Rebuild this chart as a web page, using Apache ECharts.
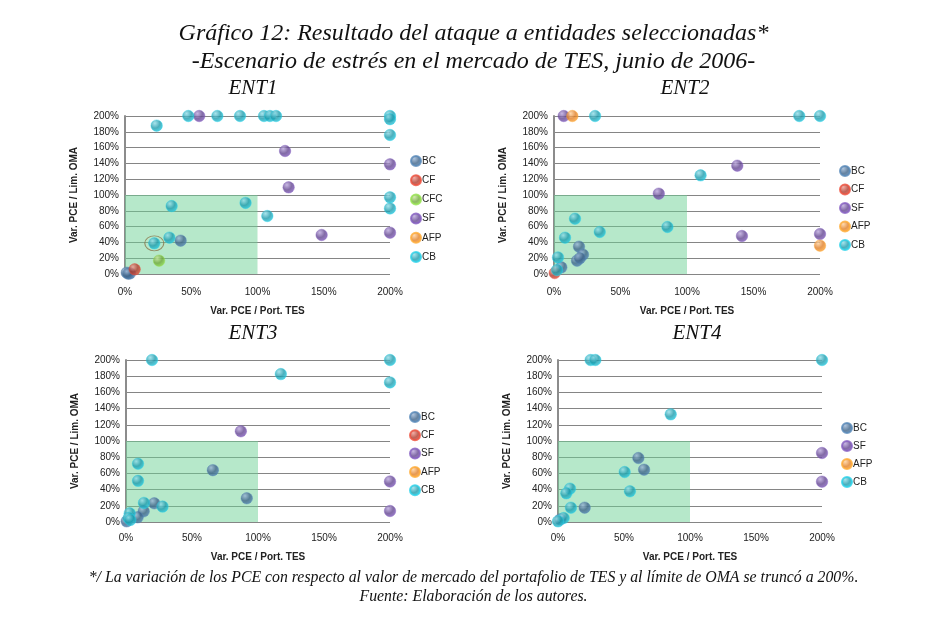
<!DOCTYPE html>
<html><head><meta charset="utf-8">
<script src="https://cdn.jsdelivr.net/npm/echarts@6/dist/echarts.min.js"></script>
<style>html,body{margin:0;padding:0;background:#fff}#c{width:947px;height:627px}</style>
</head><body><div id="c"></div>
<script>
// ---- Data (x = Var. PCE / Port. TES %, y = Var. PCE / Lim. OMA %) ----
const yTicks = [0,20,40,60,80,100,120,140,160,180,200];
const xTicks = [0,50,100,150,200];

// ENT1
const ent1_BC  = [[1.3,1.7],[3.8,0.8],[2.5,0.3],[42,42.2]];
const ent1_CF  = [[7.3,5.9]];
const ent1_CFC = [[25.7,16.9]];
const ent1_SF  = [[56,200],[120.8,155.7],[200,138.8],[123.5,109.7],[148.4,49.4],[200,52.3]];
const ent1_AFP = [];
const ent1_CB  = [[47.8,200],[69.7,200],[86.8,200],[104.9,200],[109.4,200],[114,200],[200,200],[200,196],
                  [23.9,187.8],[200,176],[200,97],[200,83],[35.2,86],[91,90],[107.4,73.4],[33.5,46],[22.1,38.8]];
const ent1_ring = [[22.1,38.8]];

// ENT2
const ent2_BC  = [[18.8,34.6],[21.8,24.5],[17.3,16.9],[19.5,20],[5.5,8.4]];
const ent2_CF  = [[0.5,1.2]];
const ent2_SF  = [[7.3,200],[137.8,137.1],[78.8,101.7],[141.3,48.1],[200,50.6]];
const ent2_AFP = [[13.8,200],[200,35.9]];
const ent2_CB  = [[30.9,200],[184.4,200],[200,200],[110.2,124.9],[15.8,70],[85.3,59.5],[34.4,53.2],[8.3,46],[3,21],[2.3,5]];

// ENT3
const ent3_BC  = [[65.8,64],[91.5,29.3],[21.4,23.1],[13.4,13.2],[8.8,5.8],[0.5,0.8]];
const ent3_CF  = [];
const ent3_SF  = [[87,112],[200,50],[200,13.6]];
const ent3_AFP = [];
const ent3_CB  = [[19.7,200],[200,200],[117.3,182.6],[200,172.3],[9.1,71.9],[9.1,50.8],[13.6,23.6],[27.7,19],[2.8,10.7],[2,5],[3.3,2.5]];

// ENT4
const ent4_BC  = [[60.9,79],[65.2,64.6],[20.2,17.7],[1.8,3.3]];
const ent4_SF  = [[200,85.2],[200,49.8]];
const ent4_AFP = [];
const ent4_CB  = [[24.7,200],[28.3,200],[200,200],[85.4,132.9],[50.5,61.7],[9.1,41.2],[6.3,35.4],[54.5,37.9],[9.8,17.7],[4.3,4.9],[0,0.8]];

const colors = {BC:'#3f6489', CF:'#b03a2c', CFC:'#6fa83a', SF:'#634690', AFP:'#e07f27', CB:'#1e9bac'};
const light  = {BC:'#9ab6d6', CF:'#f09a90', CFC:'#c6e69a', SF:'#b9a5dc', AFP:'#ffd09a', CB:'#92dde8'};

function grad(k){
  return new echarts.graphic.RadialGradient(0.35,0.3,0.75,[
    {offset:0,color:light[k]},{offset:0.55,color:colors[k]},{offset:1,color:echarts.color.lift(colors[k],-0.3)}]);
}

const grids = [
  {left:125, top:116, width:265, height:158},
  {left:554, top:116, width:266, height:158},
  {left:126, top:360, width:264, height:162},
  {left:558, top:360, width:264, height:162}
];

const panels = [
  {BC:ent1_BC, CF:ent1_CF, CFC:ent1_CFC, SF:ent1_SF, AFP:ent1_AFP, CB:ent1_CB, legend:['BC','CF','CFC','SF','AFP','CB']},
  {BC:ent2_BC, CF:ent2_CF, SF:ent2_SF, AFP:ent2_AFP, CB:ent2_CB, legend:['BC','CF','SF','AFP','CB']},
  {BC:ent3_BC, CF:ent3_CF, SF:ent3_SF, AFP:ent3_AFP, CB:ent3_CB, legend:['BC','CF','SF','AFP','CB']},
  {BC:ent4_BC, SF:ent4_SF, AFP:ent4_AFP, CB:ent4_CB, legend:['BC','SF','AFP','CB']}
];

const legendPos = [
  {left:410, top:155, gap:7.2},
  {left:839, top:165, gap:6.5},
  {left:409, top:411, gap:6.3},
  {left:841, top:422, gap:6}
];

const xAxes=[], yAxes=[], series=[], legends=[];
const font = 'Liberation Sans, Arial, sans-serif';
grids.forEach((g,i)=>{
  xAxes.push({gridIndex:i, type:'value', min:0, max:200, interval:50,
    name:'Var. PCE / Port. TES', nameLocation:'middle', nameGap: i<2 ? 32 : 30,
    nameTextStyle:{fontSize:10, fontWeight:'bold', color:'#222', fontFamily:font},
    axisLabel:{formatter:'{value}%', fontSize:10, color:'#222', fontFamily:font, margin: i<2 ? 13 : 11},
    axisLine:{show:false}, axisTick:{show:false}, splitLine:{show:false}});
  yAxes.push({gridIndex:i, type:'value', min:0, max:200, interval:20,
    name:'Var. PCE / Lim. OMA', nameLocation:'middle', nameGap:46,
    nameTextStyle:{fontSize:10, fontWeight:'bold', color:'#222', fontFamily:font},
    axisLabel:{formatter:'{value}%', fontSize:10, color:'#222', fontFamily:font, margin:6},
    axisLine:{show:true, lineStyle:{color:'#8c8c8c', width:2}}, axisTick:{show:false},
    splitLine:{show:true, lineStyle:{color:'#858585', width:1}}});
  const p = panels[i];
  series.push({type:'scatter', name:'zona', xAxisIndex:i, yAxisIndex:i, data:[], silent:true,
    markArea:{silent:true, itemStyle:{color:'rgba(110,210,150,0.5)'}, data:[[{coord:[0,0]},{coord:[100,100]}]]}});
  p.legend.forEach(k=>{
    series.push({type:'scatter', name:k, xAxisIndex:i, yAxisIndex:i, data:p[k], symbolSize:11.5,
      itemStyle:{color:grad(k), borderColor:echarts.color.lift(colors[k],-0.35), borderWidth:0.5}, z:3});
  });
  if(i===0){
    series.push({type:'scatter', name:'ring', xAxisIndex:0, yAxisIndex:0, data:ent1_ring, symbolSize:[19,15],
      itemStyle:{color:'rgba(0,0,0,0)', borderColor:'#8a7448', borderWidth:1}, z:4, silent:true});
  }
  const lp = legendPos[i];
  legends.push({data:p.legend, orient:'vertical', left:lp.left, top:lp.top, itemGap:lp.gap, padding:0,
    icon:'circle', itemWidth:10, itemHeight:10,
    textStyle:{fontSize:10, color:'#222', fontFamily:font, padding:[0,0,0,-4]}});
});

const serif = 'Liberation Serif, Times New Roman, serif';
const tStyle = s => ({fontFamily:serif, fontStyle:'italic', fontWeight:'normal', fontSize:s, color:'#111'});
const titles = [
  {text:'Gráfico 12: Resultado del ataque a entidades seleccionadas*', left:'center', top:22, padding:0, textStyle:tStyle(24)},
  {text:'-Escenario de estrés en el mercado de TES, junio de 2006-', left:'center', top:50, padding:0, textStyle:tStyle(24)},
  {text:'ENT1', left:253, top:78, padding:0, textAlign:'center', textStyle:tStyle(21)},
  {text:'ENT2', left:685, top:78, padding:0, textAlign:'center', textStyle:tStyle(21)},
  {text:'ENT3', left:253, top:323, padding:0, textAlign:'center', textStyle:tStyle(21)},
  {text:'ENT4', left:697, top:323, padding:0, textAlign:'center', textStyle:tStyle(21)},
  {text:'*/ La variación de los PCE con respecto al valor de mercado del portafolio de TES y al límite de OMA se truncó a 200%.', left:'center', top:570, padding:0, textStyle:tStyle(15.8)},
  {text:'Fuente: Elaboración de los autores.', left:'center', top:589, padding:0, textStyle:tStyle(15.8)}
];

const chart = echarts.init(document.getElementById('c'), null, {renderer:'canvas'});
chart.setOption({
  animation:false, backgroundColor:'#fff',
  title:titles, grid:grids, xAxis:xAxes, yAxis:yAxes, legend:legends, series:series
});
</script></body></html>
